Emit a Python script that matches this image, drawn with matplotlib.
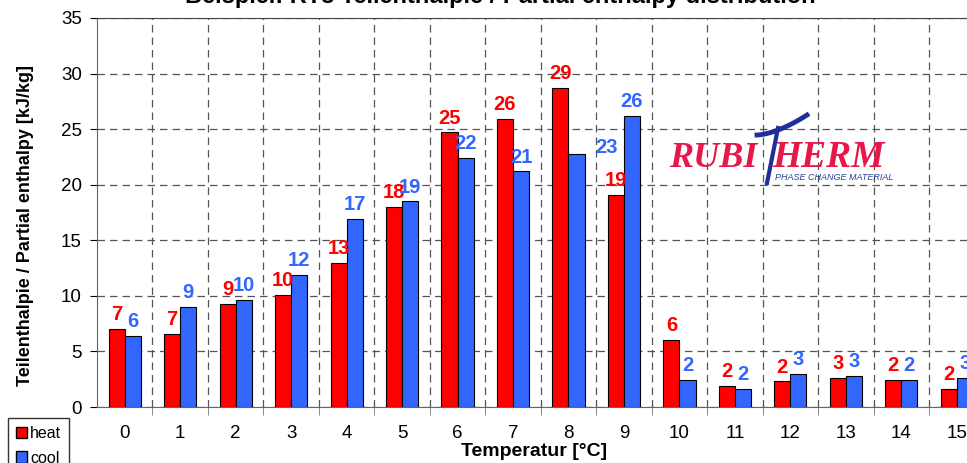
import numpy as np
import matplotlib.pyplot as plt
from matplotlib.patches import Patch

# data
temps = [str(t) for t in range(16)]
heat = [7.0, 6.6, 9.3, 10.1, 13.0, 18.0, 24.7, 25.9, 28.7, 19.1, 6.0, 1.9, 2.3, 2.6, 2.4, 1.6]
cool = [6.4, 9.0, 9.6, 11.9, 16.9, 18.5, 22.4, 21.2, 22.8, 26.2, 2.4, 1.6, 3.0, 2.8, 2.4, 2.6]
heat_lbl = ["7", "7", "9", "10", "13", "18", "25", "26", "29", "19", "6", "2", "2", "3", "2", "2"]
cool_lbl = ["6", "9", "10", "12", "17", "19", "22", "21", "23", "26", "2", "2", "3", "3", "2", "3"]

RED = "#ff0000"
BLUE = "#3366ff"

plt.rcParams['font.family'] = ['Liberation Sans', 'DejaVu Sans']

fig = plt.figure(figsize=(9.67, 4.63), dpi=100)
ax = fig.add_axes([97 / 967, 56 / 463, 887.5 / 967, 389 / 463])

x = np.arange(len(temps))
w = 0.29
ax.bar(x - w / 2, heat, w, color=RED, edgecolor="black", linewidth=0.8, zorder=3)
ax.bar(x + w / 2, cool, w, color=BLUE, edgecolor="black", linewidth=0.8, zorder=3)

for i in range(len(temps)):
    ax.annotate(heat_lbl[i], (x[i] - w / 2, heat[i]), xytext=(0, 3.5), textcoords="offset points",
                ha="center", va="bottom", color=RED, fontsize=14.5, fontweight="bold", zorder=4)
    if i == 8:
        # this label sits off to the right in the original
        ax.text(x[i] + 0.68, 22.5, cool_lbl[i], ha="center", va="bottom", color=BLUE,
                fontsize=14.5, fontweight="bold", zorder=4)
    else:
        ax.annotate(cool_lbl[i], (x[i] + w / 2, cool[i]), xytext=(0, 3.5), textcoords="offset points",
                    ha="center", va="bottom", color=BLUE, fontsize=14.5, fontweight="bold", zorder=4)

ax.set_xlim(-0.5, 15.5)
ax.set_ylim(0, 35)
ax.set_yticks(range(0, 36, 5))
ax.set_xticks(x)
ax.set_xticklabels(temps)
ax.set_xticks(np.arange(0.5, 15.5, 1), minor=True)
ax.tick_params(axis="x", which="major", length=0, labelsize=13.5, pad=13)
ax.tick_params(axis="x", which="minor", length=6, direction="out", color="#777777")
ax.tick_params(axis="y", length=5, direction="out", labelsize=13.5, pad=6)

ax.grid(axis="y", which="major", linestyle=(0, (6, 4)), color="#555555", linewidth=0.9, zorder=0)
ax.grid(axis="x", which="minor", linestyle=(0, (6, 4)), color="#555555", linewidth=0.9, zorder=0)
ax.spines["right"].set_visible(False)
ax.spines["top"].set_color("#444444")
ax.spines["left"].set_color("#666666")
ax.spines["bottom"].set_color("#666666")

ax.set_xlabel("Temperatur [°C]", fontsize=14, fontweight="bold")
ax.xaxis.set_label_coords((534 - 97) / 887.5, -(451 - 407) / 389)
ax.xaxis.label.set_va("center")
ax.set_ylabel("Teilenthalpie / Partial enthalpy [kJ/kg]", fontsize=13, fontweight="bold")
ax.yaxis.set_label_coords((26 - 97) / 887.5, (407 - 226) / 389)
ax.yaxis.label.set_va("center")

fig.text(500 / 967, 1 - 3 / 463, "Beispiel: RT8 Teilenthalpie / Partial enthalpy distribution",
         ha="center", va="baseline", fontsize=17, fontweight="bold")

# legend box bottom left
handles = [Patch(facecolor=RED, edgecolor="black", label="heat"),
           Patch(facecolor=BLUE, edgecolor="black", label="cool")]
fig.legend(handles=handles, loc="upper left", bbox_to_anchor=(8 / 967, 1 - 418 / 463),
           fontsize=11.5, frameon=True, fancybox=False, edgecolor="black",
           handlelength=0.7, handleheight=0.7, handletextpad=0.2, borderpad=0.5,
           labelspacing=0.6, borderaxespad=0)

# RUBITHERM logo
logo = "#e8174a"
fig.text(757 / 967, 1 - 167 / 463, "RUBI", ha="right", va="baseline", color=logo,
         fontsize=26, fontweight="bold", style="italic", family="Liberation Serif")
fig.text(772 / 967, 1 - 167 / 463, "HERM", ha="left", va="baseline", color=logo,
         fontsize=27, fontweight="bold", style="italic", family="Liberation Serif")
fig.text(775 / 967, 1 - 178 / 463, "PHASE CHANGE MATERIAL", ha="left", va="center", color="#2b3f9e",
         fontsize=6.5, style="italic")
tx = np.linspace(757, 807, 30)
ty = 135 - 20 * ((tx - 757) / 50) ** 1.6
fig.add_artist(plt.Line2D(tx / 967, 1 - ty / 463, color="#1f2f9a", linewidth=3.5))
fig.add_artist(plt.Line2D([778 / 967, 767 / 967], [1 - 128 / 463, 1 - 183 / 463],
                          color="#1f2f9a", linewidth=3))

fig.savefig("out.png", dpi=100)
